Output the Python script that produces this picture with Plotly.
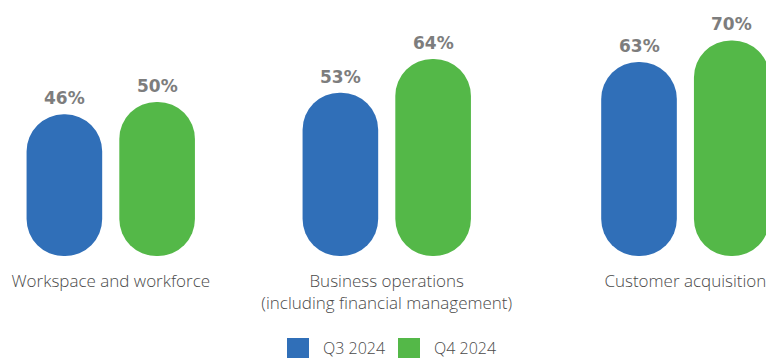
import plotly.graph_objects as go

# Survey results by area, two quarters
categories = [
    "Workspace and workforce",
    "Business operations<br>(including financial management)",
    "Customer acquisition",
]
q3_2024 = [46, 53, 63]
q4_2024 = [50, 64, 70]
series_names = ["Q3 2024", "Q4 2024"]

BLUE = "#306fb8"
GREEN = "#54b848"
LABEL_GRAY = "#7d7d7d"
TEXT_GRAY = "#4a4a4a"

W, H = 766, 358
group_pos = [0.0, 1.0, 2.082]      # centre of each category group
bar_w = 0.274
half_gap = 0.168                   # distance from group centre to bar centre

fig = go.Figure()

series = [(series_names[0], q3_2024, BLUE, -half_gap),
          (series_names[1], q4_2024, GREEN, half_gap)]

for name, vals, color, shift in series:
    off = shift - bar_w / 2
    # pill-shaped bars: explicit base so both ends get rounded
    fig.add_trace(go.Bar(
        x=group_pos, y=vals, base=[0] * len(vals),
        width=bar_w, offset=off, name=name,
        marker=dict(color=color, cornerradius="50%", line=dict(width=0)),
        showlegend=False, hoverinfo="skip",
    ))
    # value labels above each pill
    for xp, v in zip(group_pos, vals):
        fig.add_annotation(
            x=xp + shift, y=v, text=f"{v}%", showarrow=False,
            xref="x", yref="y", yanchor="bottom", yshift=4,
            font=dict(family="DejaVu Sans", size=17, color=LABEL_GRAY, weight="bold"),
        )

# legend drawn as squares with labels below the chart
legend_items = [(series_names[0], BLUE, 287, 321), (series_names[1], GREEN, 398, 432)]
plot_h = 256
for name, color, sx, tx in legend_items:
    fig.add_shape(
        type="rect", xref="paper", yref="paper",
        x0=sx / W, x1=(sx + 22) / W,
        y0=(plot_h - 360) / plot_h, y1=(plot_h - 338) / plot_h,
        fillcolor=color, line=dict(width=0), layer="above",
    )
    fig.add_annotation(
        x=tx / W, y=(plot_h - 348) / plot_h, xref="paper", yref="paper",
        text=name, showarrow=False, xanchor="left", yanchor="middle",
        font=dict(family="Open Sans", size=16, color=TEXT_GRAY, weight=300),
    )

x_left = -110.75 / 276
x_right = (W - 110.75) / 276
y_top = 256 / 3.08

fig.update_layout(
    width=W, height=H,
    margin=dict(l=0, r=0, t=0, b=H - plot_h, pad=0),
    paper_bgcolor="white", plot_bgcolor="white",
    barmode="overlay", showlegend=False,
    xaxis=dict(
        range=[x_left, x_right], tickmode="array", tickvals=group_pos,
        ticktext=categories, showgrid=False, zeroline=False, showline=False,
        ticks="", ticklabelstandoff=13, ticklabeloverflow="allow",
        tickfont=dict(family="Open Sans", size=17, color=TEXT_GRAY, weight=300),
        fixedrange=True,
    ),
    yaxis=dict(range=[0, y_top], visible=False, fixedrange=True),
)

fig.write_html("out.html")
